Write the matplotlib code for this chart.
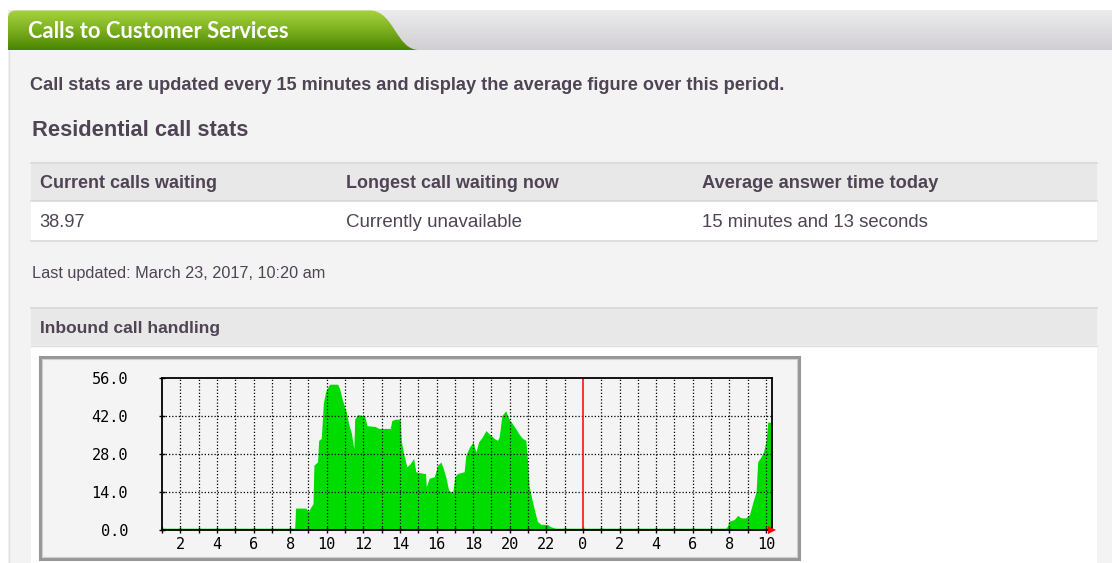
import numpy as np
import matplotlib
matplotlib.use("Agg")
import matplotlib.pyplot as plt
from matplotlib.patches import Rectangle, PathPatch
from matplotlib.path import Path
from matplotlib.colors import LinearSegmentedColormap

# ---------------- data ----------------
hours = [1.0, 8.25, 8.3, 8.85, 9.0, 9.15, 9.25, 9.3, 9.5, 9.56, 9.7, 9.82, 9.95,
         10.15, 10.6, 10.7, 10.87, 11.05, 11.2, 11.35, 11.48, 11.53, 11.7, 12.07,
         12.2, 12.65, 12.84, 13.47, 13.56, 13.75, 14.02, 14.07, 14.2, 14.38, 14.56,
         14.75, 14.87, 15.3, 15.4, 15.44, 15.6, 15.88, 16.06, 16.24, 16.37, 16.5,
         16.66, 16.88, 17.0, 17.15, 17.51, 17.6, 17.8, 18.0, 18.15, 18.3, 18.5,
         18.7, 18.88, 19.15, 19.33, 19.42, 19.57, 19.78, 19.96, 20.15, 20.33, 20.5,
         20.7, 20.88, 20.97, 21.06, 21.24, 21.39, 21.51, 21.7, 22.06, 22.24, 22.5,
         31.8, 31.9, 31.96, 32.27, 32.45, 32.64, 32.9, 33.1, 33.27, 33.46, 33.55,
         33.73, 33.86, 34.0, 34.1, 34.33]
calls = [0.5, 0.5, 7.9, 7.9, 6.7, 8.5, 9.5, 23.7, 25.0, 32.9, 33.6, 46.9, 51.0,
         53.6, 53.6, 52.0, 47.5, 43.8, 39.0, 35.4, 29.8, 40.8, 42.4, 41.9,
         38.3, 38.0, 37.3, 37.3, 40.2, 40.7, 40.7, 32.9, 28.0, 23.1, 24.3,
         26.2, 21.3, 20.7, 20.7, 15.8, 18.9, 19.5, 23.7, 24.9, 22.5, 19.5,
         14.6, 13.4, 19.5, 20.7, 21.3, 27.4, 30.4, 32.3, 28.6, 32.3, 34.1,
         36.5, 35.3, 33.6, 32.9, 34.1, 42.0, 43.8, 40.8, 39.0, 37.2, 35.3,
         33.6, 32.9, 25.6, 15.8, 10.3, 6.1, 3.0, 1.9, 1.9, 1.0, 0.5,
         0.5, 1.2, 3.0, 3.7, 5.2, 4.3, 4.3, 5.5, 9.7, 14.0, 25.0,
         26.8, 28.6, 32.3, 39.6, 39.6]
x_range = [1.0, 34.33]
midnight = 24
y_ticks = [0, 14, 28, 42, 56]
y_tick_labels = ["0.0", "14.0", "28.0", "42.0", "56.0"]
x_ticks = list(range(2, 35, 2))
x_tick_labels = ["2", "4", "6", "8", "10", "12", "14", "16", "18", "20", "22",
                 "0", "2", "4", "6", "8", "10"]
x_minor = list(range(1, 35))

title = "Calls to Customer Services"
intro = "Call stats are updated every 15 minutes and display the average figure over this period."
section = "Residential call stats"
col_heads = ["Current calls waiting", "Longest call waiting now", "Average answer time today"]
col_vals = ["38.97", "Currently unavailable", "15 minutes and 13 seconds"]
updated = "Last updated: March 23, 2017, 10:20 am"
chart_head = "Inbound call handling"

# ---------------- figure ----------------
W, H = 1112, 563
fig = plt.figure(figsize=(W / 100, H / 100), dpi=100)
fig.patch.set_facecolor("white")
bg = fig.add_axes([0, 0, 1, 1])
bg.set_xlim(0, W)
bg.set_ylim(H, 0)
bg.axis("off")
bg.set_zorder(0)
renderer = fig.canvas.get_renderer()

TXT = "#4e4454"
FONT = "Liberation Sans"


def fit(t, w):
    bb = t.get_window_extent(renderer=renderer)
    t.set_fontsize(t.get_fontsize() * w / bb.width)
    return t


# body panel
bg.add_patch(Rectangle((8, 50), W - 8, H - 50, facecolor="#f3f3f3", edgecolor="none"))
bg.plot([8.5, 8.5], [50, H], color="#e2e2e2", lw=1)

# grey header gradient
grad = np.linspace(0, 1, 64).reshape(-1, 1)
gcm = LinearSegmentedColormap.from_list("g", ["#ececee", "#d0ced2"])
bg.imshow(grad, cmap=gcm, extent=[8, W, 50, 10.5], aspect="auto", zorder=1)

# green tab
verts = [(8, 50), (8, 18), (8, 10.5), (16, 10.5), (370, 10.5), (394, 10.5), (396, 50),
         (419, 50), (8, 50)]
codes = [Path.MOVETO, Path.LINETO, Path.CURVE3, Path.CURVE3, Path.LINETO,
         Path.CURVE4, Path.CURVE4, Path.CURVE4, Path.CLOSEPOLY]
tab = PathPatch(Path(verts, codes), facecolor="none", edgecolor="none", zorder=2)
bg.add_patch(tab)
tcm = LinearSegmentedColormap.from_list("t", ["#a8d23e", "#7cb020", "#4a8502"])
im = bg.imshow(grad, cmap=tcm, extent=[8, 420, 50, 10.5], aspect="auto", zorder=2)
im.set_clip_path(tab)
fit(bg.text(28.5, 38.5, title, color="white", fontsize=12, fontweight="bold",
            family="Lato", va="baseline", zorder=3), 259)

# intro text and section heading
fit(bg.text(30.5, 90.5, intro, color=TXT, fontsize=10, fontweight="bold",
            family=FONT, va="baseline"), 758)
fit(bg.text(31.5, 136, section, color=TXT, fontsize=13, fontweight="bold",
            family=FONT, va="baseline"), 216)

# table
bg.add_patch(Rectangle((31, 162), 1066, 39, facecolor="#e8e8e8", edgecolor="none"))
bg.add_patch(Rectangle((31, 201), 1066, 40, facecolor="white", edgecolor="none"))
for yy in (162.5, 201, 241):
    bg.plot([31, 1097], [yy, yy], color="#d9d9d9", lw=1.2)
col_x = [39.5, 345.5, 701.7]
head_w = [177, 211, 236]
val_w = [45.5, 177, 227]
for cx, s, w in zip(col_x, col_heads, head_w):
    fit(bg.text(cx, 188.3, s, color=TXT, fontsize=10, fontweight="bold",
                family=FONT, va="baseline"), w)
for cx, s, w in zip(col_x, col_vals, val_w):
    fit(bg.text(cx, 227.3, s, color=TXT, fontsize=10, family=FONT, va="baseline"), w)

fit(bg.text(31.7, 277.7, updated, color=TXT, fontsize=9, family=FONT, va="baseline"), 294.5)

# chart section
bg.add_patch(Rectangle((31, 307), 1066, 38, facecolor="#e8e8e8", edgecolor="none"))
bg.plot([31, 1097], [307.5, 307.5], color="#d9d9d9", lw=1.2)
bg.add_patch(Rectangle((31, 345.5), 1066, H - 345.5, facecolor="white", edgecolor="none"))
bg.plot([31, 1097], [345.5, 345.5], color="#dedede", lw=1)
fit(bg.text(39.5, 332.7, chart_head, color=TXT, fontsize=10, fontweight="bold",
            family=FONT, va="baseline"), 180)

# chart image frame
bg.add_patch(Rectangle((39.5, 356.5), 759.5, 202, facecolor="#f4f4f4",
                       edgecolor="#979797", lw=2.2))
bg.add_patch(Rectangle((41.5, 358.5), 755.5, 198, facecolor="none",
                       edgecolor="#cfcfcf", lw=0.8))

# ---------------- chart ----------------
L, R, T, B = 162, 772, 377.7, 529.5
ax = fig.add_axes([L / W, (H - B) / H, (R - L) / W, (B - T) / H])
ax.set_zorder(2)
ax.patch.set_alpha(0)
ax.fill_between(hours, calls, 0, color="#00dc00", lw=0, zorder=1)
ax.set_xlim(*x_range)
ax.set_ylim(y_ticks[0], y_ticks[-1])

ax.set_xticks(x_ticks)
ax.set_xticklabels(x_tick_labels)
ax.set_xticks(x_minor, minor=True)
ax.set_yticks(y_ticks)
ax.set_yticklabels(y_tick_labels)

dot = (0, (1, 1.6))
for h in x_minor:
    if x_range[0] < h and h != midnight:
        ax.axvline(h, color="black", lw=0.9, ls=dot, zorder=3)
for v in y_ticks[1:-1]:
    ax.axhline(v, color="black", lw=0.9, ls=dot, zorder=3)
ax.axvline(midnight, color="#ff1010", lw=1.2, zorder=4, solid_capstyle="butt")

for sp in ax.spines.values():
    sp.set_color("black")
    sp.set_linewidth(1.3)
    sp.set_zorder(5)

mono = "DejaVu Sans Mono"
ax.tick_params(axis="x", which="both", direction="inout", length=5, width=1,
               color="black", pad=3, labelsize=11, labelcolor="black")
ax.tick_params(axis="y", direction="inout", length=5, width=1, color="black",
               pad=22, labelsize=11, labelcolor="black")
for lab in ax.get_xticklabels() + ax.get_yticklabels():
    lab.set_family(mono)

# red arrow at the end of the time axis
ax.plot([1.0], [0.0], marker=">", color="#ff0000", markersize=6, mew=0,
        transform=ax.transAxes, clip_on=False, zorder=6)

fig.savefig("out.png", dpi=100, facecolor="white")
